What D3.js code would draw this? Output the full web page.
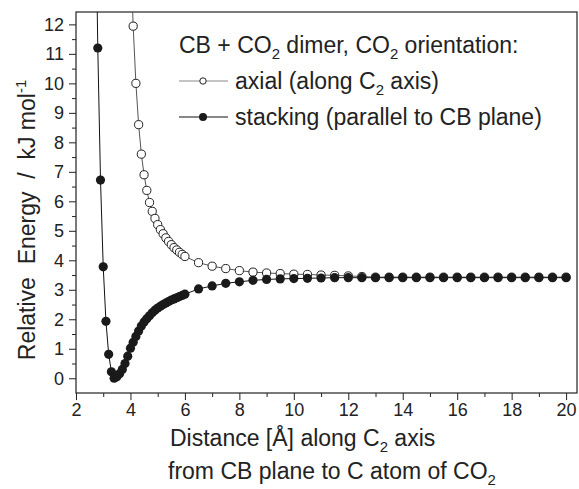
<!DOCTYPE html>
<html>
<head>
<meta charset="utf-8">
<script src="https://cdn.jsdelivr.net/npm/d3@7"></script>
<style>
  body { margin: 0; background: #fff; }
  svg { display: block; font-family: "Liberation Sans", Arial, sans-serif; }
</style>
</head>
<body>
<div class="chart"></div>
<script>
// distance along C2 axis (Å)
const stackX = [2.7, 2.8, 2.9, 3.0, 3.1, 3.2, 3.3, 3.4, 3.5, 3.6, 3.7, 3.8, 3.9, 4.0, 4.1, 4.2, 4.3, 4.4, 4.5, 4.6, 4.7, 4.8, 4.9,
  5.0, 5.1, 5.2, 5.3, 5.4, 5.5, 5.6, 5.7, 5.8, 5.9, 6.0, 6.5, 7.0, 7.5, 8.0, 8.5, 9.0, 9.5, 10.0, 10.5, 11.0, 11.5,
  12.0, 12.5, 13.0, 13.5, 14.0, 14.5, 15.0, 15.5, 16.0, 16.5, 17.0, 17.5, 18.0, 18.5, 19.0, 19.5, 20.0]
const stackE = [17.5, 11.2, 6.72, 3.78, 1.93, 0.81, 0.22, 0.0, 0.05, 0.15, 0.3, 0.5, 0.75, 1.02, 1.22, 1.42, 1.6, 1.77, 1.91, 2.02, 2.12, 2.22, 2.31,
  2.38, 2.44, 2.5, 2.55, 2.6, 2.65, 2.69, 2.73, 2.77, 2.81, 2.85, 3.03, 3.13, 3.22, 3.27, 3.32, 3.35, 3.37, 3.38, 3.39, 3.40, 3.41,
  3.41, 3.41, 3.41, 3.41, 3.41, 3.41, 3.41, 3.41, 3.41, 3.41, 3.41, 3.41, 3.41, 3.41, 3.41, 3.41, 3.41]

const axialX = [4.0, 4.1, 4.2, 4.3, 4.4, 4.5, 4.6, 4.7, 4.8, 4.9, 5.0, 5.1, 5.2, 5.3, 5.4, 5.5, 5.6, 5.7, 5.8, 5.9, 6.0,
  6.5, 7.0, 7.5, 8.0, 8.5, 9.0, 9.5, 10.0, 10.5, 11.0, 11.5, 12.0, 12.5, 13.0, 13.5, 14.0, 14.5, 15.0, 15.5,
  16.0, 16.5, 17.0, 17.5, 18.0, 18.5, 19.0, 19.5, 20.0]
const axialE = [14.6, 11.94, 10.0, 8.6, 7.6, 6.9, 6.37, 5.96, 5.66, 5.42, 5.21, 5.04, 4.9, 4.76, 4.64, 4.53, 4.43, 4.35, 4.27, 4.2, 4.13,
  3.92, 3.8, 3.72, 3.65, 3.6, 3.57, 3.55, 3.53, 3.52, 3.5, 3.49, 3.47, 3.45, 3.43, 3.43, 3.43, 3.43, 3.43, 3.43,
  3.43, 3.43, 3.43, 3.43, 3.43, 3.43, 3.43, 3.43, 3.43]

const xTicks = [2, 4, 6, 8, 10, 12, 14, 16, 18, 20]
const yTicks = [0, 1, 2, 3, 4, 5, 6, 7, 8, 9, 10, 11, 12]

const width = 579, height = 489
const margin = { top: 12, right: 2, bottom: 96, left: 76 }
const graphWidth = width - margin.left - margin.right
const graphHeight = height - margin.top - margin.bottom

const svg = d3.select(".chart").append("svg").attr("width", width).attr("height", height)

const graph = svg.append("g").attr("transform", `translate(${margin.left}, ${margin.top})`)

const xScale = d3.scaleLinear().domain([2, 20.4]).range([0, graphWidth])
const yScale = d3.scaleLinear().domain([-0.5, 12.42]).range([graphHeight, 0])

svg.append("defs").append("clipPath").attr("id", "plot")
  .append("rect").attr("width", graphWidth).attr("height", graphHeight)

// minor ticks first, then majors with labels
const xMinor = d3.axisBottom(xScale).tickValues(d3.range(3, 21, 2)).tickSize(4).tickFormat("")
const yMinor = d3.axisLeft(yScale).tickValues(d3.range(0.5, 12.4, 1)).tickSize(4).tickFormat("")
const xAxis = d3.axisBottom(xScale).tickValues(xTicks).tickSize(7).tickPadding(3)
const yAxis = d3.axisLeft(yScale).tickValues(yTicks).tickSize(7).tickPadding(5)

const styleAxis = g => {
  g.select(".domain").remove()
  g.selectAll("line").attr("stroke", "#222")
  g.selectAll("text").attr("font-size", 18).attr("fill", "#222")
}

graph.append("g").attr("transform", `translate(0, ${graphHeight})`).call(xMinor).call(styleAxis)
graph.append("g").call(yMinor).call(styleAxis)
graph.append("g").attr("transform", `translate(0, ${graphHeight})`).call(xAxis).call(styleAxis)
graph.append("g").call(yAxis).call(styleAxis)

graph.append("rect")
  .attr("width", graphWidth).attr("height", graphHeight)
  .attr("fill", "none").attr("stroke", "#222").attr("stroke-width", 1.2)

const plot = graph.append("g").attr("clip-path", "url(#plot)")

const line = d3.line().x(d => xScale(d[0])).y(d => yScale(d[1]))

const axial = axialX.map((x, i) => [x, axialE[i]])
const stack = stackX.map((x, i) => [x, stackE[i]])

plot.append("path").datum(axial).attr("d", line)
  .attr("fill", "none").attr("stroke", "#555").attr("stroke-width", 1)
plot.selectAll(".open").data(axial).enter().append("circle").attr("class", "open")
  .attr("cx", d => xScale(d[0])).attr("cy", d => yScale(d[1])).attr("r", 4.1)
  .attr("fill", "#fff").attr("stroke", "#222").attr("stroke-width", 1)

plot.append("path").datum(stack).attr("d", line)
  .attr("fill", "none").attr("stroke", "#111").attr("stroke-width", 1)
plot.selectAll(".filled").data(stack).enter().append("circle").attr("class", "filled")
  .attr("cx", d => xScale(d[0])).attr("cy", d => yScale(d[1])).attr("r", 4.6)
  .attr("fill", "#1a1a1a")

// text with a subscript "2"
const sub = (sel, txt) => sel.append("tspan").attr("font-size", "0.65em").attr("dy", 6).text(txt)
const back = (sel, txt) => sel.append("tspan").attr("dy", -6).text(txt)

// legend
const legend = svg.append("g").attr("font-size", 23).attr("fill", "#222")
const title = legend.append("text").attr("x", 179).attr("y", 53)
title.append("tspan").text("CB + CO")
sub(title, "2")
back(title, " dimer, CO")
sub(title, "2")
back(title, " orientation:")

legend.append("line").attr("x1", 179).attr("x2", 228).attr("y1", 81).attr("y2", 81)
  .attr("stroke", "#888").attr("stroke-width", 1)
legend.append("circle").attr("cx", 203).attr("cy", 81).attr("r", 3.2)
  .attr("fill", "#fff").attr("stroke", "#222")
const t1 = legend.append("text").attr("x", 235).attr("y", 89)
t1.append("tspan").text("axial (along C")
sub(t1, "2")
back(t1, " axis)")

legend.append("line").attr("x1", 179).attr("x2", 228).attr("y1", 117).attr("y2", 117)
  .attr("stroke", "#111").attr("stroke-width", 1)
legend.append("circle").attr("cx", 203).attr("cy", 117).attr("r", 4).attr("fill", "#1a1a1a")
legend.append("text").attr("x", 235).attr("y", 125).text("stacking (parallel to CB plane)")

// axis titles
const xt = svg.append("text").attr("x", 170).attr("y", 446)
  .attr("font-size", 23).attr("fill", "#222")
xt.append("tspan").text("Distance [Å] along C")
sub(xt, "2")
back(xt, " axis")

const xt2 = svg.append("text").attr("x", 168).attr("y", 479)
  .attr("font-size", 23).attr("fill", "#222")
xt2.append("tspan").text("from CB plane to C atom of CO")
sub(xt2, "2")

const yt = svg.append("text").attr("transform", "translate(35, 220) rotate(-90)")
  .attr("text-anchor", "middle").attr("font-size", 23).attr("fill", "#222")
  .attr("xml:space", "preserve")
yt.append("tspan").text("Relative  Energy  /  kJ mol")
yt.append("tspan").attr("font-size", "0.65em").attr("dy", -9).text("-1")
</script>
</body>
</html>
